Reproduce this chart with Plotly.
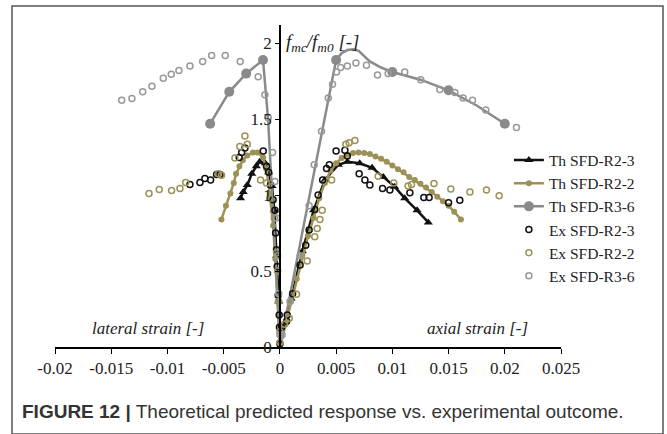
import plotly.graph_objects as go

# ---- theoretical curves (lateral branch -> origin -> axial branch) ----
th_r23_x = [-0.0035, -0.00326, -0.0029, -0.0025, -0.0021, -0.0018, -0.0013, -0.0010, -0.0007,
            -0.0005, -0.0003, -0.0001, 0.0, 0.001, 0.002, 0.003, 0.004, 0.0052, 0.006, 0.0071,
            0.0082, 0.0092, 0.0102, 0.0111, 0.0122, 0.0132]
th_r23_y = [0.98, 1.02, 1.066, 1.14, 1.19, 1.22, 1.21, 1.15, 1.06,
            0.90, 0.60, 0.30, 0.0, 0.32, 0.63, 0.90, 1.10, 1.20, 1.22, 1.21,
            1.18, 1.12, 1.055, 0.98, 0.90, 0.82]

th_r22_x = [-0.0052, -0.0048, -0.0044, -0.0041, -0.0039, -0.0036, -0.0033, -0.0029, -0.0024,
            -0.0020, -0.0015, -0.0012, -0.0009, -0.0006, -0.0004, -0.0002, 0.0,
            0.0005, 0.001, 0.0015, 0.002, 0.0025, 0.003, 0.0035, 0.004, 0.0045, 0.005,
            0.0055, 0.006, 0.0065, 0.007, 0.0075, 0.008, 0.0085, 0.009, 0.0095, 0.010,
            0.0105, 0.011, 0.0115, 0.012, 0.0125, 0.013, 0.0135, 0.014, 0.0145, 0.015,
            0.0155, 0.0161]
th_r22_y = [0.84, 0.93, 1.01, 1.08, 1.14, 1.19, 1.23, 1.26, 1.28,
            1.28, 1.25, 1.17, 1.01, 0.80, 0.58, 0.30, 0.0,
            0.15, 0.30, 0.45, 0.60, 0.73, 0.85, 0.98, 1.08, 1.16, 1.21,
            1.245, 1.265, 1.278, 1.28, 1.278, 1.27, 1.255, 1.24, 1.22, 1.195,
            1.17, 1.15, 1.12, 1.10, 1.075, 1.05, 1.02, 0.99, 0.96, 0.93,
            0.89, 0.84]

th_r36_x = [-0.0062, -0.0045, -0.0030, -0.0015, -0.00105, -0.0007, -0.0004, 0.0,
            0.001, 0.002, 0.003, 0.004, 0.005, 0.0055, 0.006, 0.0065, 0.007, 0.008,
            0.009, 0.010, 0.0125, 0.015, 0.0175, 0.020]
th_r36_y = [1.47, 1.68, 1.80, 1.89, 1.50, 1.03, 0.60, 0.0,
            0.38, 0.76, 1.14, 1.52, 1.89, 1.935, 1.955, 1.96, 1.95, 1.88,
            1.84, 1.81, 1.76, 1.69, 1.59, 1.47]
# strain values where the R3-6 prediction carries a node marker
th_r36_nodes = [-0.0062, -0.0045, -0.0030, -0.0015, 0.005, 0.010, 0.015, 0.020]

# ---- experimental points ----
ex_r23_x = [-0.0080, -0.00711, -0.00667, -0.00616, -0.00563, -0.00533, -0.00362, -0.0034,
            -0.00311, -0.00148, -0.00119, -0.0010, -0.00083, -0.0006, -0.00044, -0.00038,
            -0.0003, -0.00024, -0.00015, -0.00006, -0.00004, 0.0,
            0.00015, 0.0006, 0.00065, 0.00113, 0.0018, 0.0023, 0.0026, 0.0031, 0.0034,
            0.0038, 0.00415, 0.0044, 0.0050, 0.00578, 0.0060, 0.00705, 0.00756, 0.0080,
            0.00913, 0.00978, 0.01156, 0.0128, 0.01327, 0.0150, 0.0160]
ex_r23_y = [1.07, 1.083, 1.11, 1.10, 1.136, 1.136, 1.248, 1.28,
            1.31, 1.29, 1.19, 1.15, 1.066, 0.97, 0.90, 0.75,
            0.64, 0.53, 0.34, 0.21, 0.13, 0.02,
            0.13, 0.17, 0.21, 0.35, 0.54, 0.67, 0.77, 0.905, 1.0,
            1.10, 1.175, 1.20, 1.29, 1.296, 1.257, 1.14, 1.10, 1.066,
            1.044, 1.033, 1.015, 0.985, 0.985, 0.95, 0.967]

ex_r22_x = [-0.01164, -0.01073, -0.00963, -0.00889, -0.00838, -0.00548, -0.00519, -0.0040,
            -0.00356, -0.00311, -0.0029, -0.00172, -0.00119, -0.0009, -0.0005, -0.0003,
            -0.0002, -0.0001, 0.0, 0.0,
            0.0004, 0.00083, 0.00148, 0.00243, 0.0031, 0.00332, 0.00356, 0.00376, 0.0046,
            0.00587, 0.00616, 0.00667, 0.00874, 0.01013, 0.0114, 0.0117, 0.0137, 0.0152,
            0.0169, 0.01837, 0.0195]
ex_r22_y = [1.01, 1.037, 1.03, 1.044, 1.083, 1.14, 1.13, 1.245,
            1.32, 1.39, 1.335, 1.10, 1.08, 0.98, 0.85, 0.62,
            0.50, 0.30, 0.10, 0.03,
            0.15, 0.19, 0.347, 0.566, 0.726, 0.78, 0.84, 0.90, 1.10,
            1.335, 1.344, 1.36, 1.125, 1.08, 1.06, 1.07, 1.077, 1.04,
            1.02, 1.033, 0.995]

ex_r36_x = [-0.01407, -0.01316, -0.0122, -0.01138, -0.01037, -0.00966, -0.00898, -0.0080,
            -0.00687, -0.00607, -0.00486, -0.00353, -0.00193, -0.00133, -0.00104, -0.00065,
            -0.00044, -0.0003, -0.0002, -0.0001, 0.0,
            0.0002, 0.0009, 0.0018, 0.0026, 0.00305, 0.0037, 0.0043, 0.00468, 0.00504,
            0.0054, 0.0060, 0.00676, 0.0077, 0.00868, 0.00963, 0.0111, 0.01253, 0.01422,
            0.01556, 0.0163, 0.01713, 0.01831, 0.02104]
ex_r36_y = [1.625, 1.636, 1.68, 1.717, 1.77, 1.796, 1.82, 1.85,
            1.88, 1.92, 1.92, 1.88, 1.78, 1.66, 1.51, 1.28,
            1.09, 0.85, 0.60, 0.35, 0.08,
            0.08, 0.30, 0.60, 0.93, 1.20, 1.42, 1.64, 1.73, 1.81,
            1.84, 1.85, 1.87, 1.855, 1.79, 1.80, 1.81, 1.76, 1.695,
            1.675, 1.64, 1.625, 1.56, 1.445]

x_ticks = [-0.02, -0.015, -0.01, -0.005, 0, 0.005, 0.01, 0.015, 0.02, 0.025]
x_tick_text = ["-0.02", "-0.015", "-0.01", "-0.005", "0", "0.005", "0.01", "0.015", "0.02", "0.025"]
y_ticks = [0, 0.5, 1, 1.5, 2]
y_tick_text = ["0", "0.5", "1", "1.5", "2"]

BLACK = "#111111"
OLIVE = "#9d9256"
GREY = "#8a8a8a"
SERIF = "Liberation Serif"
TXT = "#222222"

fig = go.Figure()

fig.add_trace(go.Scatter(
    x=th_r23_x, y=th_r23_y, mode="lines+markers", name="Th SFD-R2-3",
    line=dict(color=BLACK, width=2.5),
    marker=dict(symbol="triangle-up", size=8, color=BLACK)))

fig.add_trace(go.Scatter(
    x=th_r22_x, y=th_r22_y, mode="lines+markers", name="Th SFD-R2-2",
    line=dict(color=OLIVE, width=2.5),
    marker=dict(symbol="circle", size=6, color=OLIVE)))

r36_symbols = ["circle" if x in th_r36_nodes else "line-ew" for x in th_r36_x]
fig.add_trace(go.Scatter(
    x=th_r36_x, y=th_r36_y, mode="lines+markers", name="Th SFD-R3-6",
    line=dict(color=GREY, width=2.5),
    marker=dict(symbol=r36_symbols, size=10, color=GREY, line=dict(width=0))))

for xs, ys, col, nm in [(ex_r23_x, ex_r23_y, BLACK, "Ex SFD-R2-3"),
                        (ex_r22_x, ex_r22_y, OLIVE, "Ex SFD-R2-2"),
                        (ex_r36_x, ex_r36_y, "#999999", "Ex SFD-R3-6")]:
    fig.add_trace(go.Scatter(
        x=xs, y=ys, mode="markers", name=nm,
        marker=dict(symbol="circle-open", size=6, color=col, line=dict(width=1.5))))

# outer frame of the figure panel
fig.add_shape(type="rect", xref="paper", yref="paper",
              x0=-0.085, x1=1.2016, y0=-0.27, y1=1.059,
              line=dict(color="#555555", width=1.5), layer="above")

fig.add_annotation(x=0.4526, y=0.944, xref="paper", yref="paper", xanchor="left",
                   yanchor="middle", showarrow=False,
                   text="<i>f<sub>mc</sub>/f<sub>m0</sub> [-]</i>",
                   font=dict(family=SERIF, size=19, color=TXT))
fig.add_annotation(x=0.184, y=0.059, xref="paper", yref="paper", xanchor="center",
                   yanchor="middle", showarrow=False,
                   text="<i>lateral strain [-]</i>",
                   font=dict(family=SERIF, size=17, color=TXT))
fig.add_annotation(x=0.835, y=0.059, xref="paper", yref="paper", xanchor="center",
                   yanchor="middle", showarrow=False,
                   text="<i>axial strain [-]</i>",
                   font=dict(family=SERIF, size=17, color=TXT))
fig.add_annotation(x=-0.069, y=-0.199, xref="paper", yref="paper", xanchor="left",
                   yanchor="middle", showarrow=False,
                   text="<b>FIGURE 12 |</b> Theoretical predicted response vs. experimental outcome.",
                   font=dict(family="Liberation Sans", size=19, color="#333333"))

fig.update_layout(
    width=667, height=434,
    margin=dict(l=55, r=106, t=25, b=87),
    paper_bgcolor="white", plot_bgcolor="white",
    showlegend=True,
    legend=dict(x=0.897, y=0.632, xanchor="left", yanchor="top",
                font=dict(family=SERIF, size=15.5, color=TXT),
                bgcolor="rgba(0,0,0,0)", itemwidth=30, tracegroupgap=0),
    xaxis=dict(range=[-0.02, 0.025], tickvals=x_ticks, ticktext=x_tick_text,
               showgrid=False, zeroline=False, showline=True, linecolor="black",
               linewidth=1.5, ticks="outside", ticklen=5, tickcolor="black",
               tickfont=dict(family=SERIF, size=17, color=TXT)),
    yaxis=dict(range=[0, 2.12], tickvals=y_ticks, ticktext=y_tick_text,
               anchor="free", position=0.4447,
               showgrid=False, zeroline=False, showline=True, linecolor="black",
               linewidth=1.5, ticks="outside", ticklen=4, tickcolor="black",
               tickfont=dict(family=SERIF, size=17, color=TXT)),
)

fig.write_html("out.html")
